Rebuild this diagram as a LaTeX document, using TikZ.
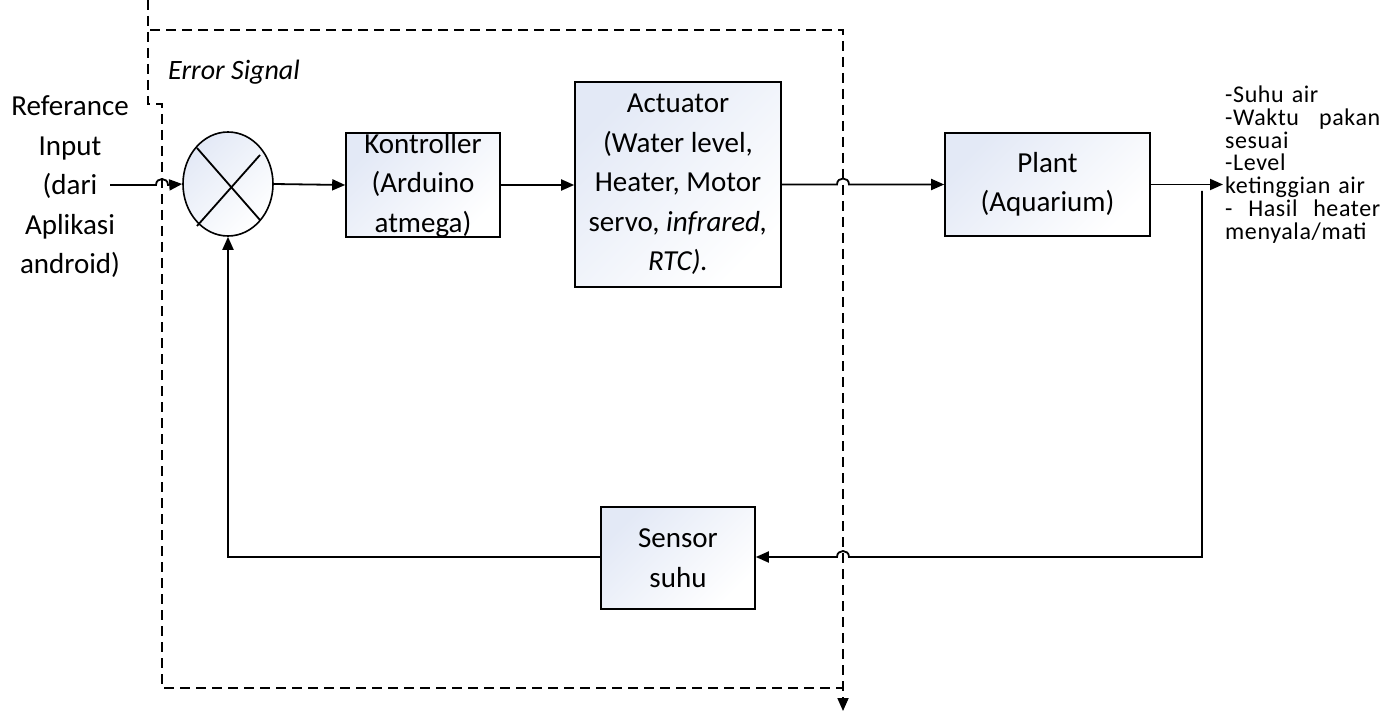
\documentclass[tikz,border=0pt]{standalone}
\usepackage{fontspec}
\setmainfont{Carlito}
\newfontfamily\outfont[LetterSpace=2.5]{Carlito}
\usetikzlibrary{arrows.meta,shapes.geometric,calc}
\definecolor{boxtop}{HTML}{E3E9F6}
\newcommand{\jline}[1]{\leavevmode\hbox to 155pt{#1}}
\newcommand{\outsty}{\outfont\fontsize{24}{22.7}\selectfont\setlength{\lineskiplimit}{-100pt}}
\tikzset{
  blk/.style={draw, line width=1.6pt, shading=axis, left color=boxtop, right color=white, shading angle=45, inner sep=0pt, align=center, font=\fontsize{29}{39.5}\selectfont},
  sig/.style={line width=1.8pt, -{Triangle[length=13pt,width=11pt]}},
  plain/.style={line width=1.8pt},
  dsh/.style={line width=1.8pt, dash pattern=on 10pt off 6pt},
  lbl/.style={font=\fontsize{29}{39.5}\selectfont, align=center, inner sep=0pt}
}
\begin{document}
\begin{tikzpicture}[x=1pt,y=-1pt]
\useasboundingbox (0,0) rectangle (1383,711);
% dashed frame
\draw[dsh] (148,0) -- (148,104) -- (162,104) -- (162,688) -- (843,688);
\draw[dsh, -{Triangle[length=13pt,width=11pt]}] (150,30) -- (843,30) -- (843,711);
% blocks
\node[blk, ellipse, minimum width=90pt, minimum height=104pt] (sum) at (228,184) {};
\draw[plain] ($(sum.center)+(-31,-36)$) -- ($(sum.center)+(32,36)$);
\draw[plain] ($(sum.center)+(-31,42)$) -- ($(sum.center)+(32,-29)$);
\node[blk, minimum width=154pt, minimum height=104pt] (ctrl) at (423,185) {Kontroller\\(Arduino\\atmega)};
\node[blk, minimum width=206pt, minimum height=205pt] (act) at (678,184.5) {Actuator\\(Water level,\\Heater, Motor\\servo, \textit{infrared,}\\\textit{RTC).}};
\node[blk, minimum width=205pt, minimum height=103pt] (plant) at (1047.5,184.5) {Plant\\(Aquarium)};
\node[blk, minimum width=154pt, minimum height=102pt] (sens) at (678,558) {Sensor\\suhu};
% texts
\node[lbl] (ref) at (70,187) {Referance\\Input\\(dari\\Aplikasi\\android)};
\node[font=\fontsize{28}{30}\selectfont\itshape, anchor=west, inner sep=0pt] (err) at (168,72) {Error Signal};
\node[font=\outsty, anchor=north west, inner sep=0pt, text width=155pt, align=left] (out) at (1225,86)
 {-Suhu air\\\jline{-Waktu\hfill pakan}\\sesuai\\-Level\\ketinggian air\\\jline{-\hfill Hasil\hfill heater}\\menyala/mati};
% connectors
\coordinate (inS) at (110,185);
\draw[sig] (inS) -- (156,185) .. controls (156,177) and (168,177) .. (168,185) -- (sum.west);
\draw[sig] (sum.east) -- (ctrl.west);
\draw[sig] (ctrl.east) -- (act.west |- ctrl.east);
\draw[sig] (act.east |- plant.west) -- (837,184.5) .. controls (837,176.5) and (849,176.5) .. (849,184.5) -- (plant.west);
\coordinate (outE) at (1223,184.5);
\draw[sig] (plant.east) -- (outE);
\coordinate (fbT) at (1202,191);
\coordinate (fbB) at (1202,557);
\draw[sig] (fbT) -- (fbB) -- (849,557) .. controls (849,549) and (837,549) .. (837,557) -- (sens.east |- fbB);
\coordinate (fbL) at (228,557);
\draw[sig] (sens.west |- fbB) -- (fbL) -- (sum.south);
\end{tikzpicture}
\end{document}
